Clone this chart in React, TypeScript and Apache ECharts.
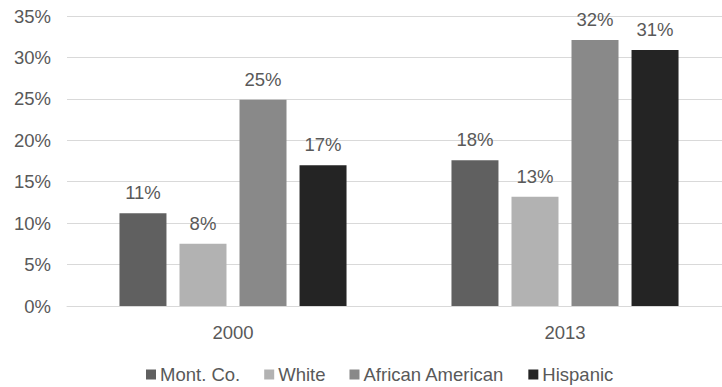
import React, { useEffect, useRef } from "react";
import * as echarts from "echarts";

const categories = ["2000", "2013"];
const seriesNames = ["Mont. Co.", "White", "African American", "Hispanic"];
const montCo = [11.2, 17.6];
const white = [7.5, 13.2];
const africanAmerican = [24.9, 32.1];
const hispanic = [17.0, 30.9];
const colors = ["#606060", "#b2b2b2", "#898989", "#242424"];
const yTicks = { min: 0, max: 35, interval: 5 };

const FONT = "'Liberation Sans', Arial, sans-serif";
const TEXT = "#595959";
const FS = 18.5;

export default function App() {
  const ref = useRef<HTMLDivElement>(null);
  useEffect(() => {
    document.body.style.margin = "0";
    if (!ref.current) return;
    const chart = echarts.init(ref.current, undefined, { renderer: "svg" });
    const values = [montCo, white, africanAmerican, hispanic];
    chart.setOption({
      animation: false,
      textStyle: { fontFamily: FONT },
      grid: {
        left: 67,
        width: 664,
        top: 16,
        height: 290,
        containLabel: false,
        outerBoundsMode: "none",
      },
      legend: {
        left: 146,
        top: 365,
        padding: 0,
        itemWidth: 10,
        itemHeight: 10,
        itemGap: 24,
        icon: "rect",
        textStyle: { fontSize: FS, color: TEXT, fontFamily: FONT, padding: [0, 0, 0, -1] },
        data: seriesNames,
      },
      xAxis: {
        type: "category",
        data: categories,
        axisTick: { show: false },
        axisLine: { lineStyle: { color: "#d9d9d9", width: 1 } },
        axisLabel: { fontSize: FS, color: TEXT, margin: 17, fontFamily: FONT },
      },
      yAxis: {
        type: "value",
        min: yTicks.min,
        max: yTicks.max,
        interval: yTicks.interval,
        axisLine: { show: false },
        axisTick: { show: false },
        splitLine: { lineStyle: { color: "#d9d9d9", width: 1 } },
        axisLabel: { fontSize: FS, color: TEXT, margin: 16, formatter: "{value}%", fontFamily: FONT },
      },
      series: seriesNames.map((name, i) => ({
        name,
        type: "bar",
        data: values[i],
        barWidth: 47,
        barGap: "27.7%",
        itemStyle: { color: colors[i] },
        label: {
          show: true,
          position: "top",
          distance: 11,
          fontSize: FS,
          color: TEXT,
          fontFamily: FONT,
          formatter: (p: any) => Math.round(p.value) + "%",
        },
      })),
    });
    return () => chart.dispose();
  }, []);
  return <div ref={ref} style={{ width: 722, height: 387 }} />;
}
